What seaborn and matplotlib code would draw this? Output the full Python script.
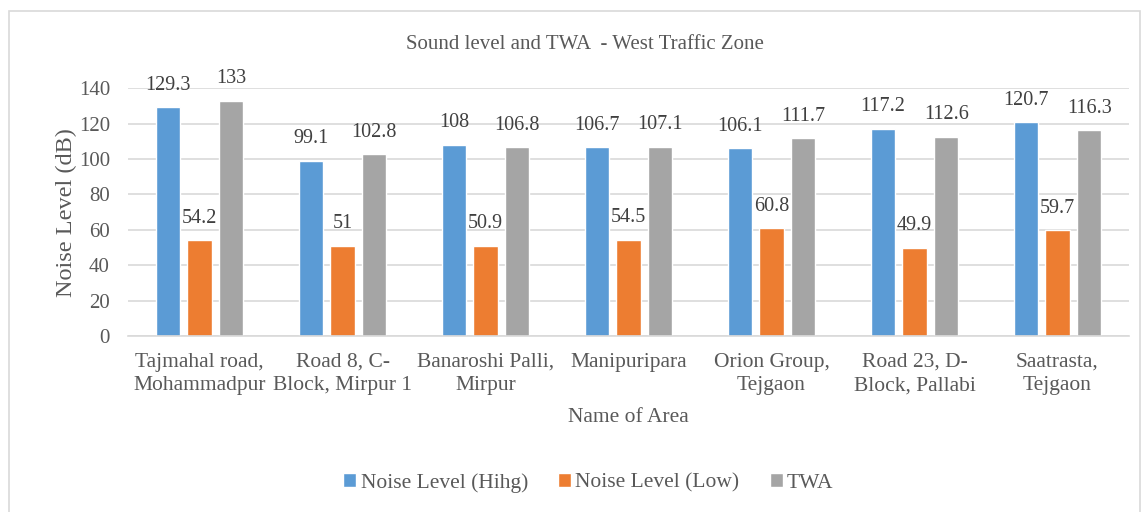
import matplotlib

matplotlib.use("Agg")
import matplotlib.pyplot as plt
import pandas as pd
import seaborn as sns
from matplotlib.patches import Rectangle

areas = [
    "Tajmahal road,\nMohammadpur",
    "Road 8, C-\nBlock, Mirpur 1",
    "Banaroshi Palli,\nMirpur",
    "Manipuripara",
    "Orion Group,\nTejgaon",
    "Road 23, D-\nBlock, Pallabi",
    "Saatrasta,\nTejgaon",
]
noise_high = [129.3, 99.1, 108, 106.7, 106.1, 117.2, 120.7]
noise_low = [54.2, 51, 50.9, 54.5, 60.8, 49.9, 59.7]
twa = [133, 102.8, 106.8, 107.1, 111.7, 112.6, 116.3]
series = ["Noise Level (Hihg)", "Noise Level (Low)", "TWA"]
colors = ["#5B9BD5", "#ED7D31", "#A5A5A5"]

df = pd.DataFrame({"area": areas, series[0]: noise_high,
                   series[1]: noise_low, series[2]: twa})
long = df.melt(id_vars="area", var_name="series", value_name="value")

sns.set_theme(style="white")
plt.rcParams["font.family"] = ["Liberation Serif", "DejaVu Serif"]
txt = "#595959"

fig = plt.figure(figsize=(11.47, 5.12), dpi=100)
ax = fig.add_axes([0.1116, 0.3438, 0.8727, 0.4837])

sns.barplot(data=long, x="area", y="value", hue="series", order=areas,
            hue_order=series, palette=colors, width=0.665, gap=0.225,
            saturation=1, ax=ax, legend=True)

for cont in ax.containers:
    labels = [f"{v:g}" for v in cont.datavalues]
    ax.bar_label(cont, labels=labels, padding=9, fontsize=14.5, color="#404040")

ax.set_ylim(0, 140)
ax.set_yticks(range(0, 141, 20))
ax.yaxis.grid(True, color="#D9D9D9", linewidth=1.2)
ax.set_axisbelow(True)
for s in ["top", "right", "left"]:
    ax.spines[s].set_visible(False)
ax.spines["bottom"].set_color("#D9D9D9")
ax.spines["bottom"].set_linewidth(1.2)
ax.tick_params(axis="y", length=0, labelsize=15, colors=txt, pad=13)
ax.tick_params(axis="x", length=0, labelsize=15.5, colors=txt, pad=12)
for lab in ax.get_xticklabels():
    lab.set_linespacing(1.32)
ax.set_xlabel("Name of Area", fontsize=15.5, color=txt, labelpad=9)
ax.set_ylabel("Noise Level (dB)", fontsize=17.5, color=txt, labelpad=1)
fig.text(0.51, 0.914, "Sound level and TWA  - West Traffic Zone",
         ha="center", va="center", fontsize=15, color=txt)

handles, labs = ax.get_legend_handles_labels()
ax.legend(handles, labs, loc="center", bbox_to_anchor=(0.513, 0.057),
          bbox_transform=fig.transFigure, ncol=3, frameon=False,
          fontsize=15.5, labelcolor=txt, handlelength=0.6, handleheight=0.6,
          handletextpad=0.2, columnspacing=1.4)

fig.patches.append(Rectangle((0.0075, -0.01), 0.986, 0.988,
                             transform=fig.transFigure, fill=False,
                             edgecolor="#D9D9D9", linewidth=1.2))

fig.savefig("out.png", dpi=100)
